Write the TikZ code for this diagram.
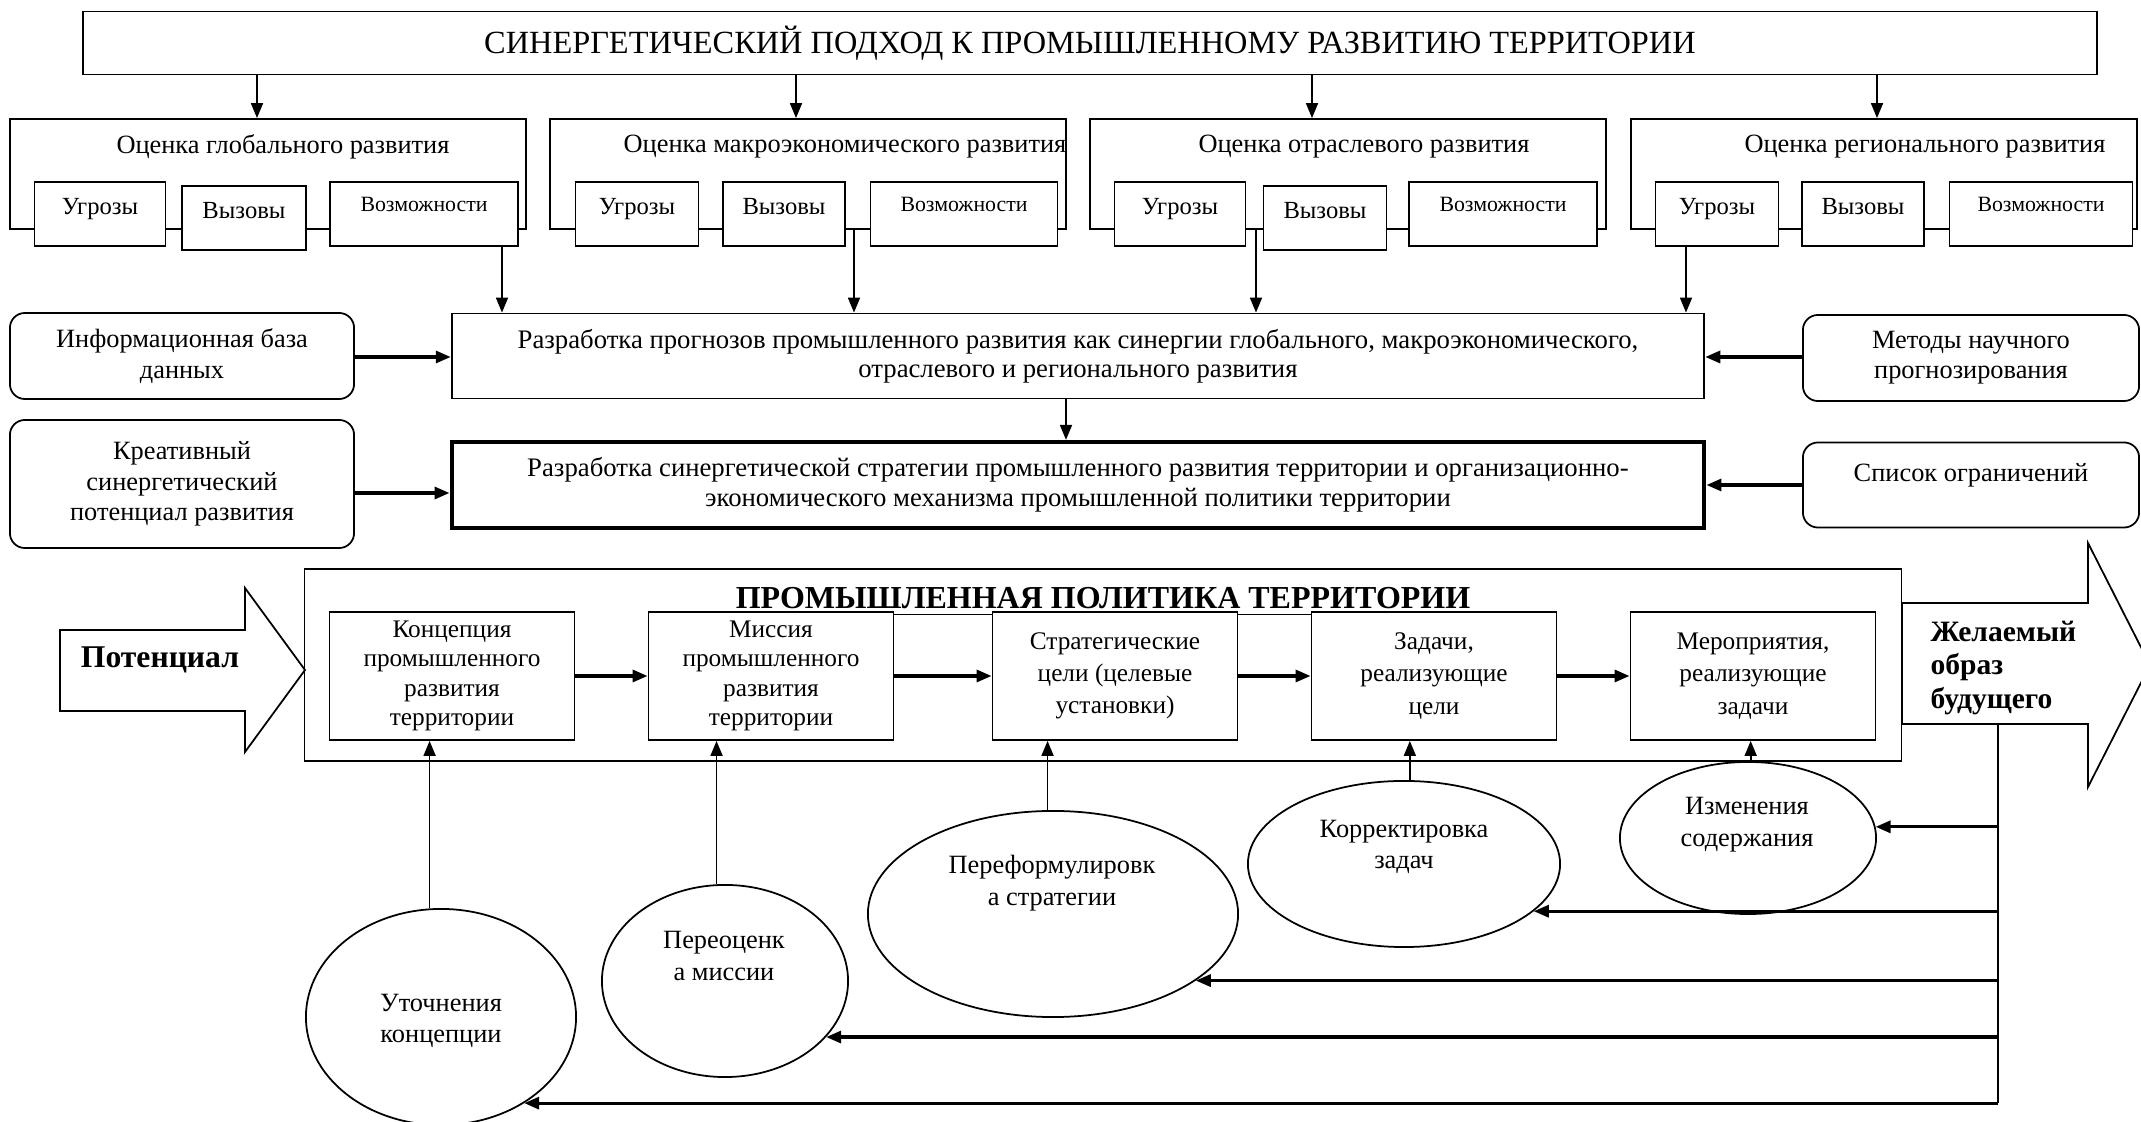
\documentclass[tikz,border=0pt]{standalone}
\usepackage{fontspec}
\setmainfont{Liberation Serif}
\usetikzlibrary{shapes.geometric,arrows.meta}

\newcommand{\fsz}[2]{\fontsize{#1}{#2}\selectfont}

\begin{document}
\begin{tikzpicture}[x=0.01cm,y=-0.01cm,>={Triangle[length=0.15cm,width=0.12cm]},line width=0.5pt,
    box node/.style={draw,rectangle,fill=white,inner sep=1pt,align=center},
    small node/.style={box node,minimum height=0.64cm,font=\fsz{7}{8},text height=0.2cm,text depth=0.18cm},
    round node/.style={box node,rounded corners=0.15cm,font=\fsz{7.5}{8.6}},
    stage node/.style={box node,minimum width=2.45cm,minimum height=1.28cm,font=\fsz{7.2}{8.4}},
    oval node/.style={draw,ellipse,fill=white,inner sep=0pt},
    oval text/.style={align=center,font=\fsz{7.5}{9}},
    fat arrow/.style={->,line width=0.9pt}]

    \useasboundingbox (0,0) rectangle (2141,1122);

    \node[box node,minimum width=20.13cm,minimum height=0.63cm,font=\fsz{9.2}{11}] (1) at (1090,43) {СИНЕРГЕТИЧЕСКИЙ ПОДХОД К ПРОМЫШЛЕННОМУ РАЗВИТИЮ ТЕРРИТОРИИ};

    % four evaluation blocks
    \node[box node,minimum width=5.16cm,minimum height=1.1cm] (2) at (268,174) {};
    \node[box node,minimum width=5.15cm,minimum height=1.1cm] (3) at (808,174) {};
    \node[box node,minimum width=5.16cm,minimum height=1.1cm] (4) at (1348,174) {};
    \node[box node,minimum width=5.05cm,minimum height=1.1cm] (5) at (1884,174) {};

    \node[font=\fsz{7.5}{8}] (2t) at (283,147) {Оценка глобального развития};
    \node[font=\fsz{7.5}{8}] (3t) at (845,147) {Оценка макроэкономического развития};
    \node[font=\fsz{7.5}{8}] (4t) at (1364,147) {Оценка отраслевого развития};
    \node[font=\fsz{7.5}{8}] (5t) at (1925,147) {Оценка регионального развития};

    \foreach \n/\x/\w in {2a/100/1.31, 3a/637/1.23, 4a/1180/1.31, 5a/1717/1.23}
        \node[small node,minimum width=\w cm] (\n) at (\x,214) {Угрозы};
    \foreach \n/\x/\y/\w in {2b/244/218/1.24, 3b/784/214/1.22, 4b/1325/218/1.23, 5b/1863/214/1.22}
        \node[small node,minimum width=\w cm] (\n) at (\x,\y) {Вызовы};
    \foreach \n/\x/\w in {2c/424/1.88, 3c/964/1.87, 4c/1503/1.88, 5c/2041/1.83}
        \node[small node,minimum width=\w cm,font=\fsz{6.2}{7},text height=0.16cm,text depth=0.21cm] (\n) at (\x,214) {Возможности};

    \foreach \n/\x in {2/257, 3/796, 4/1312, 5/1877}
        \draw[->] (\x,0 |- 1.south) -- (\x,0 |- \n.north);

    % forecast and strategy
    \node[box node,minimum width=12.52cm,minimum height=0.85cm,font=\fsz{7.6}{8.2}] (10) at (1078,356) {Разработка прогнозов промышленного развития как синергии глобального, макроэкономического,\\отраслевого и регионального развития};
    \node[box node,line width=1.2pt,minimum width=12.52cm,minimum height=0.86cm,font=\fsz{7.6}{8.4}] (11) at (1078,485) {Разработка синергетической стратегии промышленного развития территории и организационно-\\экономического механизма промышленной политики территории};

    \node[round node,minimum width=3.44cm,minimum height=0.86cm] (12) at (182,356) {Информационная база\\данных};
    \node[round node,minimum width=3.36cm,minimum height=0.86cm] (13) at (1971,358) {Методы научного\\прогнозирования};
    \node[round node,minimum width=3.44cm,minimum height=1.28cm] (14) at (182,484) {Креативный\\синергетический\\потенциал развития};
    \node[round node,minimum width=3.36cm,minimum height=0.85cm,text height=0.2cm,text depth=0.27cm] (15) at (1971,485) {Список ограничений};

    \draw[->] (502,0 |- 2c.south) -- (502,0 |- 10.north);
    \draw[->] (854,0 |- 3.south) -- (854,0 |- 10.north);
    \draw[->] (1256,0 |- 4.south) -- (1256,0 |- 10.north);
    \draw[->] (1686,0 |- 5a.south) -- (1686,0 |- 10.north);
    \draw[->] (1066,0 |- 10.south) -- (1066,0 |- 11.north);

    \draw[fat arrow] (12.east |- 0,357) -- (10.west |- 0,357);
    \draw[fat arrow] (13.west |- 0,357) -- (10.east |- 0,357);
    \draw[fat arrow] (14.east |- 0,493) -- (11.west |- 0,493);
    \draw[fat arrow] (15) -- (11);

    % industrial policy
    \node[box node,minimum width=15.96cm,minimum height=1.92cm] (20) at (1103,665) {};
    \node[anchor=base,font=\bfseries\fsz{9.1}{10}] (20t) at (1103,609) {\underline{ПРОМЫШЛЕННАЯ ПОЛИТИКА ТЕРРИТОРИИ}};

    \node[stage node] (21) at (452,676) {Концепция\\промышленного\\развития\\территории};
    \node[stage node] (22) at (771,676) {Миссия\\промышленного\\развития\\территории};
    \node[stage node,font=\fsz{7.2}{9.2}] (23) at (1115,676) {Стратегические\\цели (целевые\\установки)};
    \node[stage node,font=\fsz{7.2}{9.2}] (24) at (1434,676) {Задачи,\\реализующие\\цели};
    \node[stage node,font=\fsz{7.2}{9.2}] (25) at (1753,676) {Мероприятия,\\реализующие\\задачи};

    \draw[fat arrow] (21) -- (22);
    \draw[fat arrow] (22) -- (23);
    \draw[fat arrow] (23) -- (24);
    \draw[fat arrow] (24) -- (25);

    % block arrows
    \draw[fill=white] (60,630) -- (245,630) -- (245,588) -- (305,670) -- (245,752) -- (245,711) -- (60,711) -- cycle;
    \node[font=\bfseries\fsz{9}{10}] (30) at (160,660) {Потенциал};
    \draw[fill=white] (1902,603) -- (2088,603) -- (2088,543) -- (2150,665) -- (2088,787) -- (2088,724) -- (1902,724) -- cycle;
    \node[anchor=west,align=left,font=\bfseries\fsz{8.4}{9.5}] (31) at (1918,668) {Желаемый\\образ\\будущего};

    % corrections
    \node[oval node,minimum width=2.7cm,minimum height=2.16cm] (41) at (441,1017) {};
    \node[oval node,minimum width=2.46cm,minimum height=1.92cm] (42) at (725,981) {};
    \node[oval node,minimum width=3.7cm,minimum height=2.06cm] (43) at (1053,914) {};
    \node[oval node,minimum width=3.12cm,minimum height=1.66cm] (44) at (1404,864) {};
    \node[oval node,minimum width=2.56cm,minimum height=1.52cm] (45) at (1748,838) {};

    \node[oval text] (41t) at (441,1021) {Уточнения\\концепции};
    \node[oval text] (42t) at (724,956) {Переоценк\\а миссии};
    \node[oval text] (43t) at (1052,883) {Переформулировк\\а стратегии};
    \node[oval text] (44t) at (1404,847) {Корректировка\\задач};
    \node[oval text] (45t) at (1747,825) {Изменения\\содержания};

    \foreach \n/\a/\m in {41/96/21, 42/95/22, 43/93/23, 44/86/24, 45/88/25}
        \draw[->] (\n.\a) -- (\n.\a |- \m.south);

    \coordinate (32) at (1998,724);
    \draw (32) -- (32 |- 41.-46);
    \foreach \n/\a in {45/5, 44/-20, 43/-25, 42/-29, 41/-46}
        \draw[fat arrow] (32 |- \n.\a) -- (\n.\a);

\end{tikzpicture}
\end{document}
